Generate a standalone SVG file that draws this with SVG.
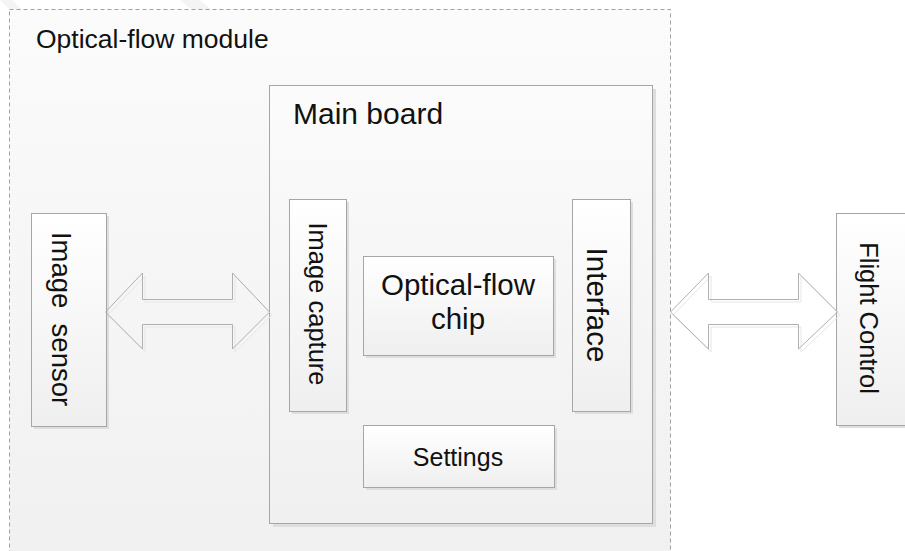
<svg xmlns="http://www.w3.org/2000/svg" width="905" height="551" viewBox="0 0 905 551">
<defs>
<linearGradient id="gOuter" x1="0" y1="0" x2="0" y2="1"><stop offset="0" stop-color="#fbfbfb"/><stop offset="1" stop-color="#f0f0f0"/></linearGradient>
<linearGradient id="gNode" x1="0" y1="0" x2="0" y2="1"><stop offset="0" stop-color="#ffffff"/><stop offset="1" stop-color="#efefef"/></linearGradient>
</defs>
<style>
.box{fill:url(#gNode);stroke:#a6a6a6;stroke-width:1}
.shadow{fill:#dedede}
.t{font-family:"Liberation Sans",Arial,sans-serif;fill:#111111}
.arrow{fill:none;stroke:#b0b0b0;stroke-width:1}
.arrowsh{fill:none;stroke:#e6e6e6;stroke-width:1}
</style>
<rect width="905" height="551" fill="#ffffff"/>
<polygon points="0,0 12,0 40,28 28,28" fill="#ececec" opacity="0.6"/>
<polygon points="180,0 200,0 212,10 192,10" fill="#ececec" opacity="0.6"/>
<g id="module">
<rect x="9.5" y="9.5" width="661" height="560" fill="url(#gOuter)" stroke="#a0a0a0" stroke-dasharray="4 3"/>
<text class="t" x="36" y="48" font-size="26.5">Optical-flow module</text>
</g>
<g id="mainboard">
<rect class="shadow" x="273" y="89" width="383" height="438"/>
<rect x="269.5" y="85.5" width="383" height="438" fill="url(#gOuter)" stroke="#a6a6a6"/>
<text class="t" x="293" y="124" font-size="30">Main board</text>
</g>
<g id="image-sensor">
<rect class="shadow" x="34" y="216" width="75" height="213"/>
<rect class="box" x="31.5" y="213.5" width="75" height="213"/>
<text class="t" transform="translate(62,319) rotate(90)" x="0" y="10" font-size="27.5" text-anchor="middle" xml:space="preserve">Image  sensor</text>
</g>
<g id="image-capture">
<rect class="shadow" x="292" y="202" width="57" height="212"/>
<rect class="box" x="289.5" y="199.5" width="57" height="212"/>
<text class="t" transform="translate(318,304) rotate(90)" x="0" y="9" font-size="25.5" text-anchor="middle">Image capture</text>
</g>
<g id="optical-flow-chip">
<rect class="shadow" x="366" y="259" width="190" height="99"/>
<rect class="box" x="363.5" y="256.5" width="190" height="99"/>
<text class="t" x="458" y="295" font-size="29.5" text-anchor="middle">Optical-flow</text>
<text class="t" x="458" y="329" font-size="29.5" text-anchor="middle">chip</text>
</g>
<g id="interface">
<rect class="shadow" x="575" y="202" width="58" height="212"/>
<rect class="box" x="572.5" y="199.5" width="58" height="212"/>
<text class="t" transform="translate(597,305) rotate(90)" x="0" y="10" font-size="29.5" text-anchor="middle">Interface</text>
</g>
<g id="settings">
<rect class="shadow" x="366" y="428" width="191" height="62"/>
<rect class="box" x="363.5" y="425.5" width="191" height="62"/>
<text class="t" x="458" y="466" font-size="25" text-anchor="middle">Settings</text>
</g>
<g id="flight-control">
<rect class="shadow" x="839" y="216" width="80" height="212"/>
<rect class="box" x="836.5" y="213.5" width="80" height="212"/>
<text class="t" transform="translate(869,318) rotate(90)" x="0" y="9" font-size="25.5" text-anchor="middle">Flight Control</text>
</g>
<g id="connectors">
<path class="arrowsh" d="M108,315 L145,276 L145,302 L235,302 L235,276 L272,315 L235,352 L235,327 L145,327 L145,352 Z"/>
<path class="arrow" d="M105.5,312 L142.5,273 L142.5,299.5 L232.5,299.5 L232.5,273 L269.5,312 L232.5,349 L232.5,324.5 L142.5,324.5 L142.5,349 Z"/>
<path class="arrowsh" d="M673,315 L711,276 L711,302 L801,302 L801,276 L840,315 L801,352 L801,327 L711,327 L711,352 Z"/>
<path class="arrow" d="M670.5,312 L708.5,273 L708.5,299.5 L798.5,299.5 L798.5,273 L837.5,312 L798.5,349 L798.5,324.5 L708.5,324.5 L708.5,349 Z"/>
</g>
</svg>
